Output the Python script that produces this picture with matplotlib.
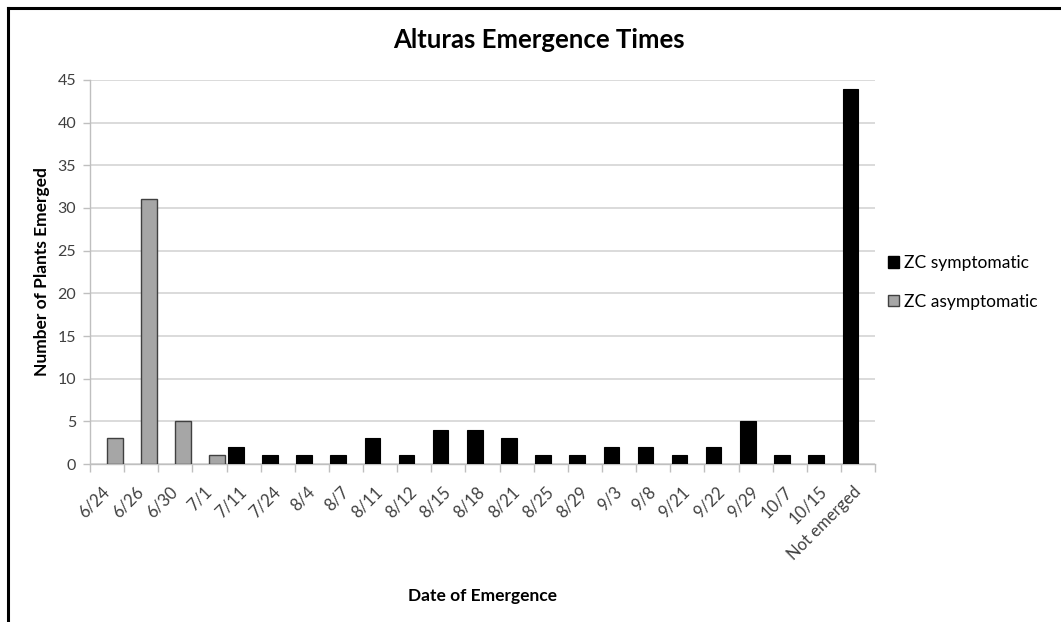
import matplotlib
matplotlib.use('Agg')
import matplotlib.pyplot as plt
from matplotlib.lines import Line2D
from matplotlib.patches import Patch
import numpy as np

dates = ['6/24', '6/26', '6/30', '7/1', '7/11', '7/24', '8/4', '8/7', '8/11', '8/12',
         '8/15', '8/18', '8/21', '8/25', '8/29', '9/3', '9/8', '9/21', '9/22', '9/29',
         '10/7', '10/15', 'Not emerged']
symptomatic = [0, 0, 0, 0, 2, 1, 1, 1, 3, 1, 4, 4, 3, 1, 1, 2, 2, 1, 2, 5, 1, 1, 44]
asymptomatic = [3, 31, 5, 1, 0, 0, 0, 0, 0, 0, 0, 0, 0, 0, 0, 0, 0, 0, 0, 0, 0, 0, 0]

plt.rcParams['font.family'] = ['Lato', 'DejaVu Sans']

fig = plt.figure(figsize=(10.61, 6.22), dpi=100)
ax = fig.add_axes([0.0848, 0.254, 0.740, 0.6174])

x = np.arange(len(dates))
w = 0.455
# skip zero-height bars so no edge lines show at the baseline
sx = [i for i in x if symptomatic[i] > 0]
ax.bar(np.array(sx) - w / 2, [symptomatic[i] for i in sx], width=w,
       color='black', edgecolor='black', linewidth=0.8, zorder=3)
ax_x = [i for i in x if asymptomatic[i] > 0]
ax.bar(np.array(ax_x) + w / 2, [asymptomatic[i] for i in ax_x], width=w,
       color='#a6a6a6', edgecolor='#404040', linewidth=1.0, zorder=3)

ax.set_xlim(-0.5, len(dates) - 0.5)
ax.set_ylim(0, 45)
ax.set_yticks(range(0, 46, 5))
ax.yaxis.grid(True, color='#d4d4d4', linewidth=1.2)
ax.set_axisbelow(True)

# category boundary ticks
ax.set_xticks(np.arange(-0.5, len(dates), 1.0))
ax.set_xticklabels([])
ax.tick_params(axis='x', length=6, color='#bfbfbf', width=1)
ax.tick_params(axis='y', length=5, color='#bfbfbf', width=1, labelsize=11.5,
               labelcolor='#404040', pad=5)
ax.set_xticks(x, minor=True)
ax.set_xticklabels(dates, minor=True, rotation=45, ha='right', va='center',
                   rotation_mode='anchor', fontsize=12, color='#404040')
ax.tick_params(axis='x', which='minor', length=0, pad=18)

for s in ['top', 'right']:
    ax.spines[s].set_visible(False)
for s in ['left', 'bottom']:
    ax.spines[s].set_color('#bfbfbf')
    ax.spines[s].set_linewidth(1)

# chart title is centred on the whole chart area, not the plot area
fig.text(0.508, 0.936, 'Alturas Emergence Times', fontsize=18.5, fontweight='bold',
         ha='center', va='center')
ax.set_ylabel('Number of Plants Emerged', fontsize=12.5, fontweight='bold', va='center')
ax.yaxis.set_label_coords(-0.061, 0.5)
ax.set_xlabel('Date of Emergence', fontsize=12.5, fontweight='bold', va='center')
ax.xaxis.set_label_coords(0.5, -0.343)

handles = [Patch(facecolor='black', edgecolor='black', label='ZC symptomatic'),
           Patch(facecolor='#a6a6a6', edgecolor='#404040', label='ZC asymptomatic')]
fig.legend(handles=handles, loc='center left', bbox_to_anchor=(0.822, 0.546),
           frameon=False, fontsize=12.5, handlelength=0.65, handleheight=0.65,
           handletextpad=0.3, labelspacing=1.3)

# outer border (top and left edges of the clipped chart frame)
fig.add_artist(Line2D([0.0075, 0.0075], [0, 0.987], transform=fig.transFigure,
                      color='black', linewidth=2.2))
fig.add_artist(Line2D([0.0075, 1.0], [0.987, 0.987], transform=fig.transFigure,
                      color='black', linewidth=2.2))

fig.savefig('out.png', dpi=100)
